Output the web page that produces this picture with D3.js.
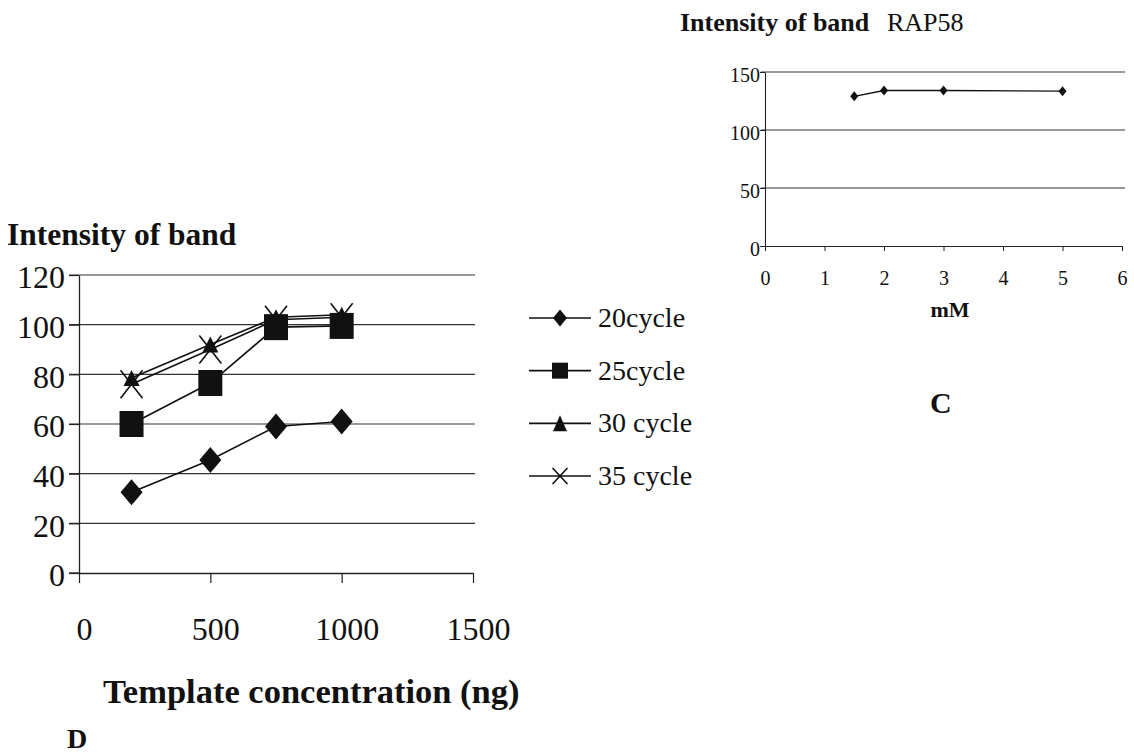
<!DOCTYPE html>
<html>
<head>
<meta charset="utf-8">
<script src="https://cdn.jsdelivr.net/npm/d3@7/dist/d3.min.js"></script>
<style>
  html, body { margin: 0; padding: 0; background: #fff; }
  svg { display: block; }
  text { font-family: "Liberation Serif", "Times New Roman", serif; fill: #111; }
</style>
</head>
<body>
<svg id="chart" width="1134" height="756"></svg>
<script>
// ---------- Data: panel D ----------
const templateConc = [200, 500, 750, 1000];
const seriesNames = ["20cycle", "25cycle", "30 cycle", "35 cycle"];
const cycle20 = [32.5, 45.5, 59, 61];
const cycle25 = [60, 76.5, 99, 99.5];
const cycle30 = [78.5, 92, 103, 104];
const cycle35 = [76, 90, 102, 103];
const dYTicks = [0, 20, 40, 60, 80, 100, 120];
const dXTicks = [0, 500, 1000, 1500];

// ---------- Data: panel C ----------
const mgConc = [1.5, 2, 3, 5];
const rap58 = [129, 134, 134, 133.5];
const cYTicks = [0, 50, 100, 150];
const cXTicks = [0, 1, 2, 3, 4, 5, 6];

const svg = d3.select("#chart");

// marker path generators
function diamond(hw, hh) { return `M0,${-hh}L${hw},0L0,${hh}L${-hw},0Z`; }
function square(hw, hh) { return `M${-hw},${-hh}H${hw}V${hh}H${-hw}Z`; }
function triangle(hw, hh) { return `M0,${-hh}L${hw},${hh}L${-hw},${hh}Z`; }
function cross(hw, hh) { return `M${-hw},${-hh}L${hw},${hh}M${hw},${-hh}L${-hw},${hh}`; }

const seriesDefs = [
  { name: seriesNames[0], values: cycle20, shape: "diamond" },
  { name: seriesNames[1], values: cycle25, shape: "square" },
  { name: seriesNames[2], values: cycle30, shape: "triangle" },
  { name: seriesNames[3], values: cycle35, shape: "cross" }
];

function markerPath(shape, big) {
  if (shape === "diamond") return big ? diamond(11, 13) : diamond(7, 8.5);
  if (shape === "square") return big ? square(12, 13) : square(8, 8);
  if (shape === "triangle") return big ? triangle(8, 8) : triangle(7, 8);
  return big ? cross(11, 14) : cross(7.5, 8);
}
function styleMarker(sel, shape) {
  if (shape === "cross") sel.attr("fill", "none").attr("stroke", "#111").attr("stroke-width", 1.6);
  else sel.attr("fill", "#111").attr("stroke", "none");
}

// ================= Panel D =================
const dx = d3.scaleLinear().domain([0, 1500]).range([79, 473]);
const dy = d3.scaleLinear().domain([0, 120]).range([573, 275]);
const gD = svg.append("g");

// gridlines
gD.append("g").selectAll("line").data(dYTicks.filter(v => v > 0)).join("line")
  .attr("x1", 69).attr("x2", 475)
  .attr("y1", d => dy(d)).attr("y2", d => dy(d))
  .attr("stroke", "#333").attr("stroke-width", 1.2);

// y axis
const dYAxis = d3.axisLeft(dy).tickValues(dYTicks).tickSize(10).tickSizeOuter(0).tickFormat(d3.format("d"));
const yAx = gD.append("g").attr("transform", `translate(${dx(0)},0)`).call(dYAxis);
yAx.select(".domain").attr("stroke", "#222").attr("stroke-width", 1.3);
yAx.selectAll(".tick line").attr("stroke", "#222").attr("stroke-width", 1.2);
yAx.selectAll(".tick text").attr("x", -14).attr("dy", "0.4em")
  .style("font-size", "32px").style("font-family", "'Liberation Serif', serif").attr("fill", "#111");

// x axis
const dXAxis = d3.axisBottom(dx).tickValues(dXTicks).tickSize(10).tickSizeOuter(0).tickFormat(d3.format("d"));
const xAx = gD.append("g").attr("transform", `translate(0,${dy(0)})`).call(dXAxis);
xAx.select(".domain").attr("stroke", "#222").attr("stroke-width", 1.3);
xAx.selectAll(".tick line").attr("stroke", "#222").attr("stroke-width", 1.2);
xAx.selectAll(".tick text").attr("y", 67).attr("dy", 0).attr("dx", 5)
  .style("font-size", "32px").style("font-family", "'Liberation Serif', serif").attr("fill", "#111");
// extend x axis line slightly left to meet the y tick
gD.append("line").attr("x1", 69).attr("x2", dx(0)).attr("y1", dy(0)).attr("y2", dy(0))
  .attr("stroke", "#222").attr("stroke-width", 1.3);

// series lines + markers
const lineGen = d3.line().x((d, i) => dx(templateConc[i])).y(d => dy(d));
seriesDefs.forEach(s => {
  gD.append("path").datum(s.values).attr("d", lineGen)
    .attr("fill", "none").attr("stroke", "#111").attr("stroke-width", 1.6);
});
seriesDefs.forEach(s => {
  gD.append("g").selectAll("path").data(s.values).join("path")
    .attr("transform", (d, i) => `translate(${dx(templateConc[i])},${dy(d)})`)
    .attr("d", markerPath(s.shape, true))
    .call(sel => styleMarker(sel, s.shape));
});

// titles
gD.append("text").attr("x", 7).attr("y", 245)
  .style("font-size", "31.5px").style("font-weight", "bold").text("Intensity of band");
gD.append("text").attr("x", 103).attr("y", 703)
  .style("font-size", "34.5px").style("font-weight", "bold").text("Template concentration (ng)");
gD.append("text").attr("x", 67).attr("y", 748)
  .style("font-size", "28px").style("font-weight", "bold").text("D");

// legend
const legY = d3.scalePoint().domain(seriesNames).range([318, 476]);
const leg = gD.append("g").selectAll("g").data(seriesDefs).join("g")
  .attr("transform", d => `translate(0,${legY(d.name)})`);
leg.append("line").attr("x1", 529).attr("x2", 591).attr("y1", 0).attr("y2", 0)
  .attr("stroke", "#111").attr("stroke-width", 1.6);
leg.each(function(d) {
  d3.select(this).append("path").attr("transform", "translate(560,0)")
    .attr("d", markerPath(d.shape, false)).call(sel => styleMarker(sel, d.shape));
});
leg.append("text").attr("x", 598).attr("y", 9)
  .style("font-size", "28px").text(d => d.name);

// ================= Panel C =================
const cx = d3.scaleLinear().domain([0, 6]).range([765, 1122]);
const cy = d3.scaleLinear().domain([0, 150]).range([246, 72]);
const gC = svg.append("g");

gC.append("g").selectAll("line").data(cYTicks.filter(v => v > 0)).join("line")
  .attr("x1", 761).attr("x2", 1125)
  .attr("y1", d => cy(d)).attr("y2", d => cy(d))
  .attr("stroke", "#333").attr("stroke-width", 1.1);

const cYAxis = d3.axisLeft(cy).tickValues(cYTicks).tickSize(5).tickSizeOuter(0).tickFormat(d3.format("d"));
const cyAx = gC.append("g").attr("transform", `translate(${cx(0)},0)`).call(cYAxis);
cyAx.select(".domain").attr("stroke", "#222").attr("stroke-width", 1.1);
cyAx.selectAll(".tick line").attr("stroke", "#222");
cyAx.selectAll(".tick text").attr("x", -5).attr("dy", "0.45em")
  .style("font-size", "20px").style("font-family", "'Liberation Serif', serif").attr("fill", "#222");

const cXAxis = d3.axisBottom(cx).tickValues(cXTicks).tickSize(5).tickSizeOuter(0).tickFormat(d3.format("d"));
const cxAx = gC.append("g").attr("transform", `translate(0,${cy(0)})`).call(cXAxis);
cxAx.select(".domain").attr("stroke", "#222").attr("stroke-width", 1.1);
cxAx.selectAll(".tick line").attr("stroke", "#222");
cxAx.selectAll(".tick text").attr("y", 39).attr("dy", 0)
  .style("font-size", "20px").style("font-family", "'Liberation Serif', serif").attr("fill", "#222");

const cLine = d3.line().x((d, i) => cx(mgConc[i])).y(d => cy(d));
gC.append("path").datum(rap58).attr("d", cLine)
  .attr("fill", "none").attr("stroke", "#111").attr("stroke-width", 1.4);
gC.append("g").selectAll("path").data(rap58).join("path")
  .attr("transform", (d, i) => `translate(${cx(mgConc[i])},${cy(d)})`)
  .attr("d", diamond(4, 5)).attr("fill", "#111");

const cTitle = gC.append("text").attr("x", 680).attr("y", 31).style("font-size", "26px");
cTitle.append("tspan").style("font-weight", "bold").text("Intensity of band");
cTitle.append("tspan").attr("x", 887).text("RAP58");

gC.append("text").attr("x", 950).attr("y", 317).attr("text-anchor", "middle")
  .style("font-size", "22px").style("font-weight", "bold").text("mM");
gC.append("text").attr("x", 930).attr("y", 413)
  .style("font-size", "30px").style("font-weight", "bold").text("C");
</script>
</body>
</html>
